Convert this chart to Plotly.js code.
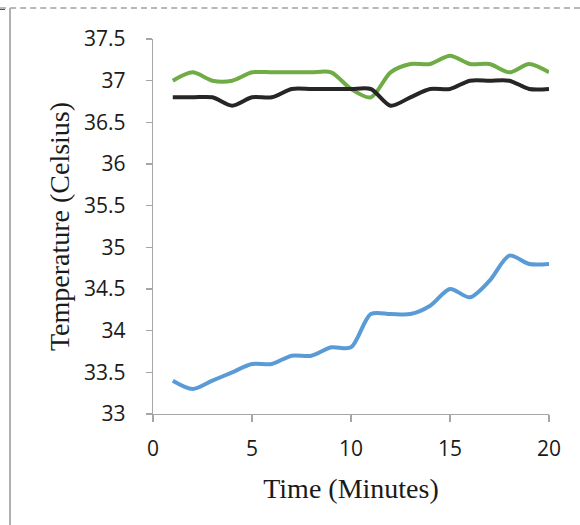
<!DOCTYPE html>
<html>
<head>
<meta charset="utf-8">
<script src="https://cdn.plot.ly/plotly-3.0.1.min.js"></script>
<style>
html,body{margin:0;padding:0;background:#fff;}
#wrap{position:relative;width:580px;height:525px;overflow:hidden;}
#chart{position:absolute;left:0;top:0;width:580px;height:525px;}
#topline{position:absolute;left:0;top:7px;width:580px;height:0;border-top:2px dashed #b8b8b8;}
#leftline{position:absolute;left:9px;top:8px;width:0;height:520px;border-left:2px solid #b0b0b0;}
#corner{position:absolute;left:0;top:9px;width:5px;height:0;border-top:1px solid #555;}
</style>
</head>
<body>
<div id="wrap">
<div id="chart"></div>
<div id="topline"></div>
<div id="leftline"></div>
<div id="corner"></div>
</div>
<script>
const minutes = [1,2,3,4,5,6,7,8,9,10,11,12,13,14,15,16,17,18,19,20];
const blueSeries  = [33.4,33.3,33.4,33.5,33.6,33.6,33.7,33.7,33.8,33.8,34.2,34.2,34.2,34.3,34.5,34.4,34.6,34.9,34.8,34.8];
const greenSeries = [37.0,37.1,37.0,37.0,37.1,37.1,37.1,37.1,37.1,36.9,36.8,37.1,37.2,37.2,37.3,37.2,37.2,37.1,37.2,37.1];
const blackSeries = [36.8,36.8,36.8,36.7,36.8,36.8,36.9,36.9,36.9,36.9,36.9,36.7,36.8,36.9,36.9,37.0,37.0,37.0,36.9,36.9];
const xTicks = [0,5,10,15,20];
const yTicks = [33,33.5,34,34.5,35,35.5,36,36.5,37,37.5];
const yTickText = ['33','33.5','34','34.5','35','35.5','36','36.5','37','37.5'];

function line(y, color){
  return {x: minutes, y: y, type:'scatter', mode:'lines',
    line:{color: color, width:4, shape:'spline', smoothing:0.8},
    hoverinfo:'skip', showlegend:false};
}

const data = [
  line(blueSeries, '#5b9bd5'),
  line(greenSeries, '#6fac45'),
  line(blackSeries, '#262626')
];

const tickFont = {family:'"Open Sans", sans-serif', size:21, color:'#1a1a1a'};
const titleFont = {family:'"Liberation Serif", "Times New Roman", serif', size:28, color:'#1a1a1a'};

const layout = {
  width:580, height:525,
  margin:{l:153, r:31, t:39, b:111, pad:0},
  paper_bgcolor:'rgba(0,0,0,0)', plot_bgcolor:'rgba(0,0,0,0)',
  showlegend:false,
  xaxis:{
    range:[0,20], tickvals:xTicks, ticktext:xTicks.map(String),
    showgrid:false, zeroline:false, showline:true, linecolor:'#a6a6a6', linewidth:1.3,
    ticks:'outside', ticklen:7, tickcolor:'#a6a6a6', tickwidth:1.3,
    tickfont:tickFont, ticklabelstandoff:8,
    title:{text:'Time (Minutes)', font:titleFont, standoff:18}
  },
  yaxis:{
    range:[33,37.5], tickvals:yTicks, ticktext:yTickText,
    showgrid:false, zeroline:false, showline:true, linecolor:'#a6a6a6', linewidth:1.3,
    ticks:'outside', ticklen:6, tickcolor:'#a6a6a6', tickwidth:1.3,
    tickfont:tickFont, ticklabelstandoff:16,
    title:{text:'Temperature (Celsius)', font:titleFont, standoff:6}
  }
};

Plotly.newPlot('chart', data, layout, {staticPlot:true, displayModeBar:false});
</script>
</body>
</html>
